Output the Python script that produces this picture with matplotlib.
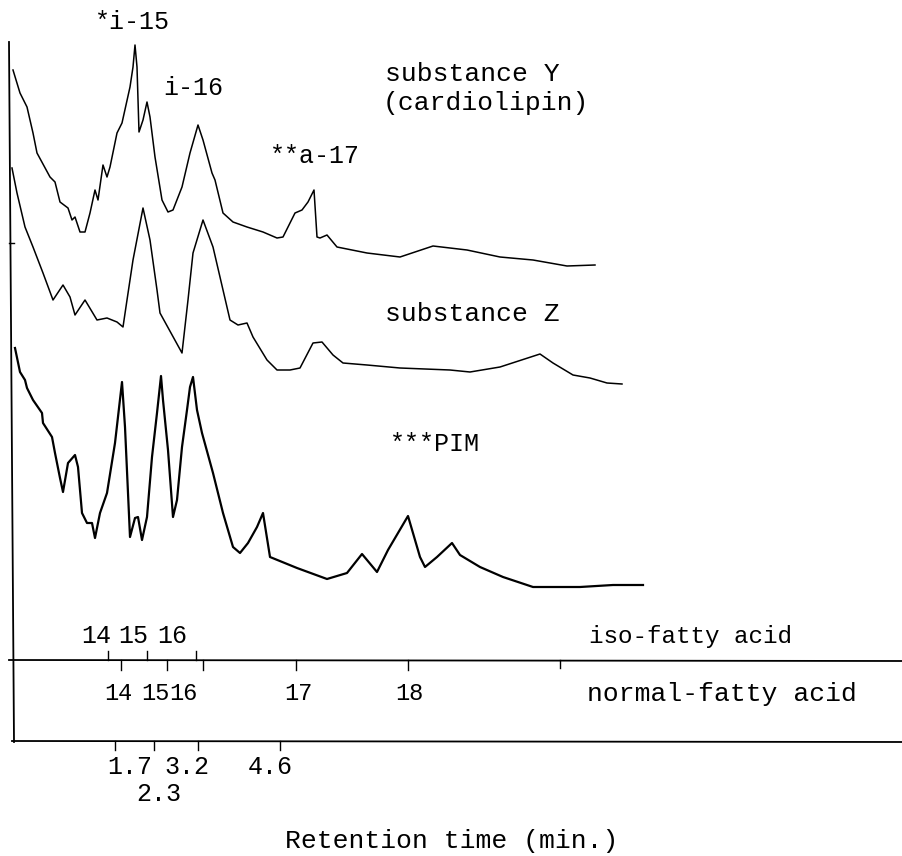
import matplotlib
matplotlib.use("Agg")
import matplotlib.pyplot as plt

# chromatogram traces: position along the time axis, pen position (page units, y grows downward)
y_x = [13, 20, 27, 33, 37, 50, 55, 60, 68, 72, 75, 80, 85, 90, 95, 98, 103, 107, 110, 117,
       122, 130, 133, 135, 137, 139, 143, 147, 150, 155, 162, 168, 173, 182, 190, 198, 203,
       212, 215, 223, 233, 247, 263, 277, 283, 295, 302, 308, 314, 317, 320, 327, 337, 367,
       400, 433, 467, 500, 533, 567, 595]
y_y = [70, 93, 107, 133, 153, 177, 182, 202, 208, 220, 217, 232, 232, 213, 190, 200, 165,
       177, 167, 133, 123, 87, 67, 45, 67, 132, 120, 102, 117, 157, 200, 212, 210, 187, 153,
       125, 140, 173, 180, 213, 222, 227, 232, 238, 237, 213, 210, 202, 190, 237, 238, 235,
       247, 253, 257, 246, 250, 257, 260, 266, 265]

z_x = [12, 17, 25, 33, 43, 53, 63, 70, 75, 85, 97, 107, 117, 123, 127, 133, 143, 150, 157,
       160, 182, 188, 193, 203, 213, 230, 238, 247, 253, 267, 277, 290, 300, 313, 322, 333,
       343, 367, 400, 450, 470, 500, 540, 553, 573, 590, 607, 622]
z_y = [168, 193, 227, 247, 273, 300, 285, 297, 315, 300, 320, 318, 322, 327, 300, 260, 208,
       240, 290, 313, 353, 300, 253, 220, 247, 320, 325, 323, 337, 360, 370, 370, 368, 343,
       342, 355, 363, 365, 368, 370, 372, 367, 354, 363, 375, 378, 383, 384]

pim_x = [15, 20, 25, 27, 33, 42, 43, 52, 55, 60, 63, 68, 75, 78, 82, 87, 92, 95, 100, 107,
         115, 122, 125, 130, 135, 138, 142, 147, 152, 157, 161, 163, 168, 173, 177, 182, 187,
         190, 193, 197, 202, 213, 223, 233, 240, 248, 257, 263, 270, 297, 327, 347, 362, 377,
         388, 408, 420, 425, 437, 452, 460, 480, 503, 533, 580, 613, 643]
pim_y = [348, 372, 380, 388, 400, 413, 423, 437, 453, 478, 492, 463, 455, 467, 513, 523, 523,
         538, 513, 493, 443, 382, 427, 537, 518, 517, 540, 517, 457, 413, 376, 400, 450, 517,
         500, 447, 410, 387, 377, 410, 433, 473, 513, 547, 553, 543, 527, 513, 557, 568, 579,
         573, 554, 572, 550, 516, 557, 567, 557, 543, 555, 567, 577, 587, 587, 585, 585]

# carbon-number scales and retention times
iso_ticks = [108, 147, 196]
iso_labels = ["14", "15", "16"]
normal_ticks = [121, 167, 203, 296, 408]
normal_label_pos = [118, 155, 183, 298, 409]
normal_labels = ["14", "15", "16", "17", "18"]
rt_ticks = [115, 154, 198, 280]
rt_labels = ["1.7", "2.3", "3.2", "4.6"]

fig = plt.figure(figsize=(9.03, 8.56), dpi=100)
ax = fig.add_axes([0, 0, 1, 1])
ax.set_xlim(0, 903)
ax.set_ylim(856, 0)
ax.axis("off")

mono = "Liberation Mono"

ax.plot(y_x, y_y, color="black", lw=1.1)
ax.plot(z_x, z_y, color="black", lw=1.1)
ax.plot(pim_x, pim_y, color="black", lw=1.6)

# frame: vertical axis and the two scale lines
ax.plot([9, 14], [42, 742], color="black", lw=1.3)
ax.plot([9, 903], [660, 661], color="black", lw=1.3)
ax.plot([12, 903], [741, 742], color="black", lw=1.3)
ax.plot([9, 14], [243, 243], color="black", lw=1.0)

for x in iso_ticks:
    ax.plot([x, x], [651, 660], color="black", lw=1.0)
for x in normal_ticks:
    ax.plot([x, x], [660, 670], color="black", lw=1.0)
ax.plot([560, 560], [660, 668], color="black", lw=1.0)
for x in rt_ticks:
    ax.plot([x, x], [741, 750], color="black", lw=1.0)

for x, lab in zip([96, 133, 172], iso_labels):
    ax.text(x, 636, lab, family=mono, fontsize=18, ha="center", va="center")
for x, lab in zip(normal_label_pos, normal_labels):
    ax.text(x, 694, lab, family=mono, fontsize=17, ha="center", va="center")
for x, y, lab in zip([130, 159, 187, 270], [767, 794, 767, 767], rt_labels):
    ax.text(x, y, lab, family=mono, fontsize=18, ha="center", va="center")

ax.text(792, 636, "iso-fatty acid", family=mono, fontsize=17.5, ha="right", va="center")
ax.text(857, 694, "normal-fatty acid", family=mono, fontsize=19, ha="right", va="center")
ax.text(452, 841, "Retention time (min.)", family=mono, fontsize=19, ha="center", va="center")

# peak and trace labels
ax.text(95, 22, "*i-15", family=mono, fontsize=18, ha="left", va="center")
ax.text(163, 88, "i-16", family=mono, fontsize=18, ha="left", va="center")
ax.text(270, 156, "**a-17", family=mono, fontsize=18, ha="left", va="center")
ax.text(385, 74, "substance Y", family=mono, fontsize=19, ha="left", va="center")
ax.text(383, 103, "(cardiolipin)", family=mono, fontsize=19, ha="left", va="center")
ax.text(385, 314, "substance Z", family=mono, fontsize=19, ha="left", va="center")
ax.text(390, 444, "***PIM", family=mono, fontsize=18, ha="left", va="center")

fig.savefig("out.png", dpi=100)
